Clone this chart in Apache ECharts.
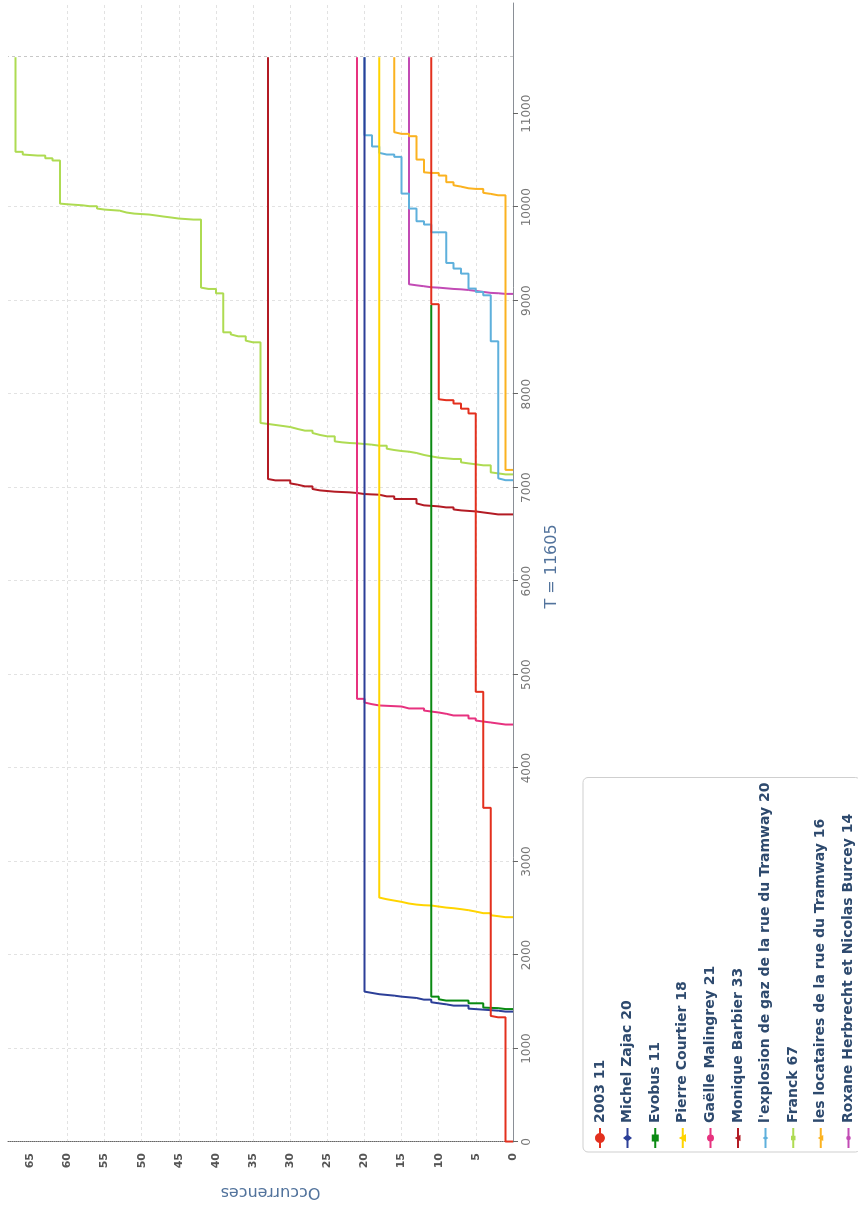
<!DOCTYPE html>
<html>
<head>
<meta charset="utf-8">
<script src="https://cdn.jsdelivr.net/npm/echarts@6/dist/echarts.min.js"></script>
<style>
html,body{margin:0;padding:0;width:858px;height:1206px;overflow:hidden;background:#fff;}
#chart{position:absolute;left:0;top:1206px;width:1206px;height:858px;transform-origin:0 0;transform:rotate(-90deg);}
</style>
</head>
<body>
<div id="chart"></div>
<script>
// ---- data (time position, cumulative occurrences) ----
const T_END = 11605;
const seriesNames = [
  '2003 11', 'Michel Zajac 20', 'Evobus 11', 'Pierre Courtier 18', 'Gaëlle Malingrey 21',
  'Monique Barbier 33', "l'explosion de gaz de la rue du Tramway 20", 'Franck 67',
  'les locataires de la rue du Tramway 16', 'Roxane Herbrecht et Nicolas Burcey 14'
];
const seriesColors = ['#e3301e', '#2c3f98', '#0a8a12', '#ffd400', '#e7327f',
  '#b31b24', '#5eb0dc', '#aedb52', '#fbb220', '#c24bb5'];
const seriesSymbols = ['circle', 'diamond', 'rect', 'triangle', 'circle',
  'triangle', 'diamond', 'rect', 'triangle', 'circle'];
const legendSymbolSizes = [10, 9, 7, 8, 7, 6.5, 5.5, 4.5, 6, 4.5];

const data2003 = [[5,0],[5,1],[1334,2],[1349,3],[3575,4],[4816,5],[7794,6],[7845,7],[7900,8],[7936,9],[7946,10],[8963,11],[11605,11]];
const dataZajac = [[1395,0],[1395,1],[1405,2],[1416,4],[1427,6],[1459,8],[1473,9],[1484,10],[1495,11],[1523,12],[1541,13],[1555,15],[1566,16],[1581,18],[1595,19],[1609,20],[11605,20]];
const dataEvobus = [[1422,0],[1422,1],[1432,2],[1438,4],[1484,6],[1513,9],[1527,10],[1555,11],[8955,11]];
const dataCourtier = [[2405,0],[2405,1],[2416,2],[2426,3],[2448,4],[2465,5],[2480,6],[2491,7],[2501,8],[2508,9],[2519,10],[2530,11],[2533,12],[2540,13],[2551,14],[2569,15],[2583,16],[2597,17],[2615,18],[11605,18]];
const dataGaelle = [[4466,0],[4466,1],[4477,2],[4488,3],[4498,4],[4509,5],[4531,6],[4563,8],[4581,9],[4595,10],[4605,11],[4616,12],[4638,14],[4659,15],[4670,18],[4684,19],[4702,20],[4741,21],[11605,21]];
const dataMonique = [[6714,0],[6714,2],[6725,3],[6735,4],[6746,5],[6757,7],[6767,8],[6789,9],[6800,10],[6811,12],[6832,13],[6879,16],[6907,17],[6925,18],[6928,19],[6932,20],[6943,21],[6950,22],[6957,24],[6964,25],[6971,26],[6986,27],[7014,28],[7032,29],[7046,30],[7078,32],[7093,33],[11605,33]];
const dataExplosion = [[7080,0],[7080,1],[7100,2],[8566,3],[9058,4],[9094,5],[9130,6],[9290,7],[9344,8],[9404,9],[9732,11],[9815,12],[9850,13],[9986,14],[10146,15],[10539,16],[10564,17],[10582,18],[10650,19],[10770,20],[11605,20]];
const dataFranck = [[7142,0],[7142,1],[7153,2],[7164,3],[7239,4],[7250,5],[7260,6],[7271,7],[7307,8],[7314,9],[7321,10],[7335,11],[7350,12],[7371,13],[7385,14],[7392,15],[7403,16],[7417,17],[7449,18],[7460,19],[7467,20],[7474,21],[7478,22],[7485,23],[7495,24],[7549,25],[7564,26],[7585,27],[7610,28],[7628,29],[7649,30],[7660,31],[7671,32],[7682,33],[7692,34],[8555,35],[8573,36],[8619,37],[8640,38],[8662,39],[9079,40],[9126,41],[9140,42],[9868,43],[9879,45],[9890,46],[9900,47],[9911,48],[9922,49],[9932,51],[9943,52],[9964,53],[9975,55],[9986,56],[10011,57],[10021,58],[10032,60],[10039,61],[10500,62],[10524,63],[10553,64],[10564,66],[10593,67],[11605,67]];
const dataLocataires = [[7190,0],[7190,1],[10128,2],[10143,3],[10154,4],[10196,5],[10203,6],[10221,7],[10235,8],[10268,9],[10339,10],[10367,11],[10374,12],[10510,13],[10760,14],[10785,15],[10803,16],[11605,16]];
const dataRoxane = [[9073,0],[9073,1],[9080,2],[9084,3],[9094,4],[9105,5],[9115,6],[9122,7],[9126,8],[9133,9],[9140,10],[9144,11],[9155,12],[9165,13],[9176,14],[11605,14]];

const timeTicks = [0,1000,2000,3000,4000,5000,6000,7000,8000,9000,10000,11000];
const countTicks = [0,5,10,15,20,25,30,35,40,45,50,55,60,65];

const allData = [data2003, dataZajac, dataEvobus, dataCourtier, dataGaelle,
  dataMonique, dataExplosion, dataFranck, dataLocataires, dataRoxane];

// ---- legend icon: short line with a symbol of given size (20 x 14 box) ----
function legendIcon(type, size) {
  const cx = 10, cy = 7, h = size / 2;
  let p = 'M0,0 M20,14 M0,6 L20,6 L20,8 L0,8 Z ';
  if (type === 'circle') {
    p += 'M' + (cx - h) + ',' + cy + ' A' + h + ',' + h + ' 0 1,1 ' + (cx + h) + ',' + cy +
         ' A' + h + ',' + h + ' 0 1,1 ' + (cx - h) + ',' + cy + ' Z';
  } else if (type === 'diamond') {
    p += 'M' + cx + ',' + (cy - h) + ' L' + (cx + h * 0.8) + ',' + cy + ' L' + cx + ',' + (cy + h) +
         ' L' + (cx - h * 0.8) + ',' + cy + ' Z';
  } else if (type === 'rect') {
    p += 'M' + (cx - h) + ',' + (cy - h) + ' L' + (cx + h) + ',' + (cy - h) + ' L' + (cx + h) + ',' + (cy + h) +
         ' L' + (cx - h) + ',' + (cy + h) + ' Z';
  } else {
    p += 'M' + cx + ',' + (cy - h) + ' L' + (cx + h) + ',' + (cy + h * 0.8) + ' L' + (cx - h) + ',' + (cy + h * 0.8) + ' Z';
  }
  return 'path://' + p;
}

// ---- chart ----
const chart = echarts.init(document.getElementById('chart'), null, {renderer: 'canvas'});
const FONT = 'DejaVu Sans';
const series = allData.map((d, i) => {
  const s = {
    name: seriesNames[i],
    type: 'line',
    step: 'end',
    data: d,
    showSymbol: false,
    symbol: seriesSymbols[i],
    color: seriesColors[i],
    lineStyle: {width: 2, color: seriesColors[i]},
    itemStyle: {color: seriesColors[i]},
    z: 20 - i,
    silent: true,
    animation: false
  };
  if (i === 0) {
    s.markLine = {
      silent: true,
      symbol: ['none', 'none'],
      label: {show: false},
      lineStyle: {color: '#c8c8c8', type: [3, 3], width: 1},
      data: [{xAxis: T_END}]
    };
  }
  return s;
});

chart.setOption({
  animation: false,
  backgroundColor: '#fff',
  textStyle: {fontFamily: FONT},
  grid: {left: 64, right: 3, top: 8, bottom: 345, containLabel: false, outerBoundsMode: 'none'},
  legend: {
    orient: 'vertical',
    left: 54,
    top: 583,
    height: 300,
    padding: [10, 5, 5, 4],
    itemGap: 13.6,
    itemWidth: 20,
    itemHeight: 14,
    borderColor: '#cfcfcf',
    borderWidth: 1,
    borderRadius: 5,
    backgroundColor: '#fff',
    itemStyle: {borderWidth: 0},
    textStyle: {fontFamily: FONT, fontWeight: 'bold', fontSize: 14, color: '#2e4a6e'},
    data: seriesNames.map((n, i) => ({name: n, icon: legendIcon(seriesSymbols[i], legendSymbolSizes[i])}))
  },
  xAxis: {
    type: 'value',
    min: 0,
    max: 12185,
    interval: 1000,
    name: 'T = 11605',
    nameLocation: 'middle',
    nameGap: 31,
    nameTextStyle: {fontFamily: FONT, fontSize: 16, color: '#52739c', padding: [0, 0, 0, 12]},
    axisLine: {show: true, onZero: false, lineStyle: {color: '#8a8f96', width: 1}},
    axisTick: {show: true, length: 5, customValues: timeTicks, lineStyle: {color: '#666'}},
    axisLabel: {show: true, customValues: timeTicks, margin: 8, fontFamily: FONT, fontSize: 12, color: '#777',
      formatter: function (v) { return String(v); }},
    splitLine: {show: true, showMaxLine: false, lineStyle: {color: ['#e2e2e2','#e2e2e2','#e2e2e2','#e2e2e2','#e2e2e2','#e2e2e2','#e2e2e2','#e2e2e2','#e2e2e2','#e2e2e2','#e2e2e2','#e2e2e2','transparent','transparent'], type: [3, 3], width: 1}}
  },
  yAxis: {
    type: 'value',
    min: 0,
    max: 68,
    interval: 5,
    name: 'Occurrences',
    nameLocation: 'middle',
    nameGap: 42,
    nameTextStyle: {fontFamily: FONT, fontSize: 16, color: '#52739c', padding: [0, 20, 0, 0]},
    axisLine: {show: true, lineStyle: {color: '#666', type: 'dotted', width: 1}},
    axisTick: {show: false, customValues: countTicks},
    axisLabel: {show: true, customValues: countTicks, margin: 11, fontFamily: FONT, fontSize: 11, fontWeight: 'bold', color: '#555'},
    splitLine: {show: true, showMaxLine: false, lineStyle: {color: '#e2e2e2', type: [3, 3], width: 1}}
  },
  series: series
});
</script>
</body>
</html>
